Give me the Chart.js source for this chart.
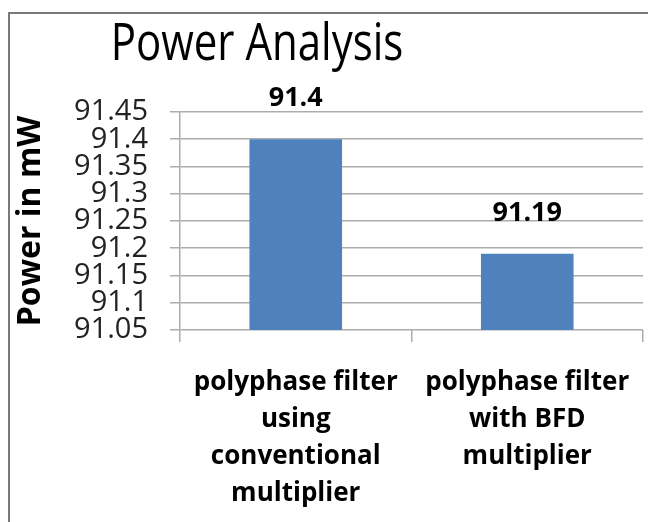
<!DOCTYPE html>
<html>
<head>
<meta charset="utf-8">
<script src="https://cdn.jsdelivr.net/npm/chart.js@4.4.0/dist/chart.umd.min.js"></script>
<style>
  html, body { margin: 0; padding: 0; background: #fff; }
  #wrap { position: relative; width: 648px; height: 522px; overflow: hidden; }
  #frame { position: absolute; left: 8px; top: 12px; right: -10px; bottom: -10px;
           border-left: 2px solid #7a7a7a; border-top: 2px solid #7a7a7a; }
  #chart { position: absolute; left: 0; top: 0; }
</style>
</head>
<body>
<div id="wrap">
  <div id="frame"></div>
  <canvas id="chart" width="648" height="522"></canvas>
</div>
<script>
// data
var categories = [
  ['polyphase filter', 'using', 'conventional', 'multiplier'],
  ['polyphase filter', 'with BFD', 'multiplier']
];
var powerValues = [91.4, 91.19];
var valueLabels = ['91.4', '91.19'];
var yTicks = [91.05, 91.1, 91.15, 91.2, 91.25, 91.3, 91.35, 91.4, 91.45];

var gridGray = '#acacac';

// title + value labels drawn on top
var extras = {
  id: 'extras',
  afterDatasetsDraw: function(chart) {
    var ctx = chart.ctx;
    ctx.save();
    ctx.fillStyle = '#000';
    ctx.textAlign = 'center';
    ctx.textBaseline = 'alphabetic';
    // original text looks a bit stretched vertically
    ctx.save();
    ctx.translate(257, 60);
    ctx.scale(1, 1.2);
    ctx.font = '42px "Open Sans"';
    ctx.fillText('Power Analysis', 0, 0);
    ctx.restore();

    ctx.font = 'bold 27px "Open Sans"';
    var meta = chart.getDatasetMeta(0);
    meta.data.forEach(function(bar, i) {
      ctx.fillText(valueLabels[i], bar.x, bar.y - 33);
    });
    ctx.restore();
  }
};

var config = {
  type: 'bar',
  data: {
    labels: categories,
    datasets: [{
      data: powerValues,
      backgroundColor: '#4f81bd',
      categoryPercentage: 1,
      barPercentage: 0.4
    }]
  },
  options: {
    responsive: false,
    animation: false,
    layout: { padding: { top: 112, right: 5, left: 0, bottom: 0 } },
    plugins: {
      legend: { display: false },
      tooltip: { enabled: false }
    },
    scales: {
      x: {
        grid: { drawOnChartArea: false, color: gridGray, lineWidth: 1.5, tickLength: 12, offset: true },
        border: { display: false },
        ticks: {
          color: '#000',
          padding: 22,
          maxRotation: 0,
          autoSkip: false,
          font: { family: 'Open Sans', size: 26, weight: 'bold', lineHeight: 1.42 }
        },
        afterFit: function(scale) {
          scale.height = 192;
          scale.paddingLeft = 0;
          scale.paddingRight = 0;
        }
      },
      y: {
        min: 91.05,
        max: 91.45,
        afterBuildTicks: function(scale) {
          scale.ticks = yTicks.map(function(v) { return { value: v }; });
        },
        grid: { color: gridGray, lineWidth: 1.5, tickLength: 10 },
        border: { color: gridGray, width: 1.5 },
        ticks: {
          color: '#222',
          padding: 22,
          autoSkip: false,
          font: { family: 'Open Sans', size: 29, lineHeight: 1 },
          callback: function(v) { return String(Math.round(v * 100) / 100); }
        },
        title: {
          display: true,
          text: 'Power in mW',
          color: '#000',
          padding: { top: 12, bottom: 0 },
          font: { family: 'Open Sans', size: 32, weight: 'bold' }
        },
        afterFit: function(scale) {
          scale.width = 180;
          scale.paddingTop = 0;
          scale.paddingBottom = 0;
        }
      }
    }
  },
  plugins: [extras]
};

new Chart(document.getElementById('chart').getContext('2d'), config);
</script>
</body>
</html>
